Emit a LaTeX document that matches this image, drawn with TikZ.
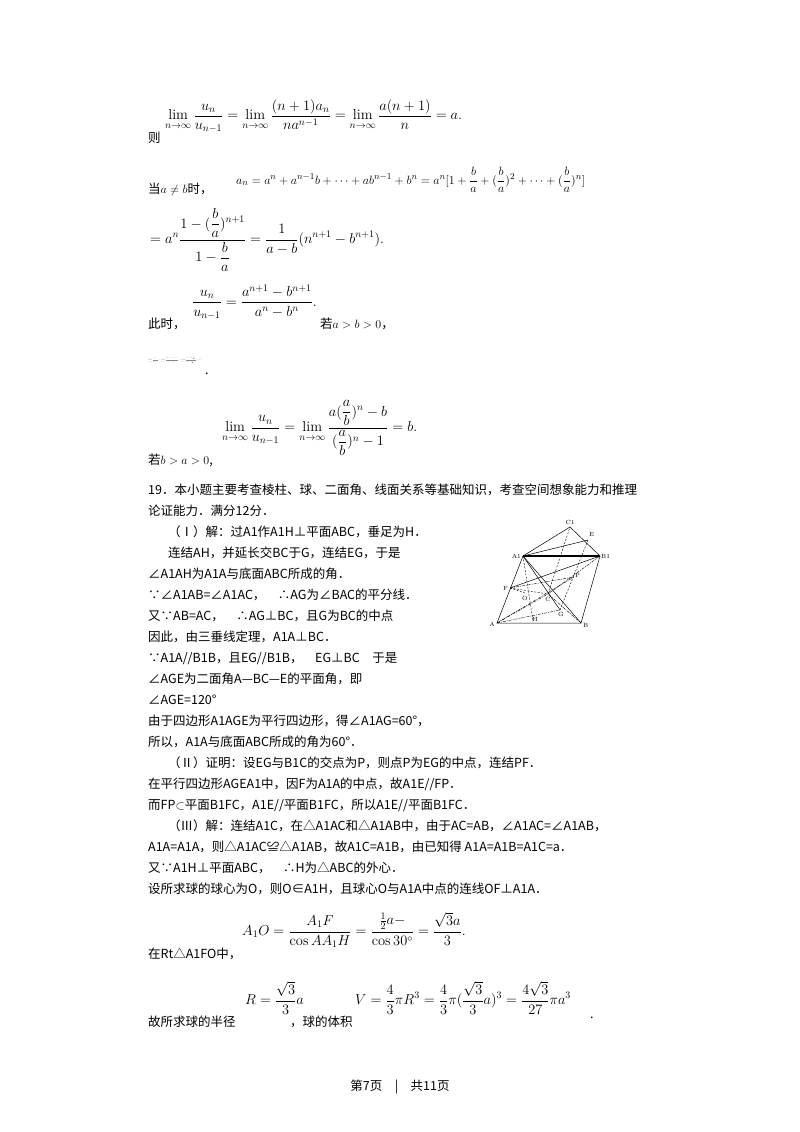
\documentclass[tikz,border=0pt]{standalone}
\usepackage{amsmath,amssymb}
\usepackage{fontspec}
\newfontfamily\cjk{Noto Sans CJK SC}
\begin{document}
\begin{tikzpicture}[x=1pt,y=-1pt,
 txt/.style={anchor=base west,inner sep=0pt,font=\fontsize{12.5}{15}\cjk},
 fm/.style={anchor=west,inner sep=0pt,font=\fontsize{14.5}{17}\selectfont},
 lbl/.style={inner sep=0pt,font=\fontsize{6}{7}\selectfont},
 ln/.style={line width=0.5pt},
 dsh/.style={line width=0.4pt,dash pattern=on 2pt off 1.5pt},
 dd/.style={line width=0.4pt,dash pattern=on 3pt off 1pt on 1pt off 1pt}]
\useasboundingbox (0,0) rectangle (800,1132);
\fill[white] (0,0) rectangle (800,1132);
% formulas
\node[fm] (f1) at (165,116) {$\displaystyle\lim_{n\to\infty}\frac{u_n}{u_{n-1}}=\lim_{n\to\infty}\frac{(n+1)a_n}{na^{n-1}}=\lim_{n\to\infty}\frac{a(n+1)}{n}=a.$};
\node[txt] (t0) at (148,142) {则};
\node[txt] (t1) at (148,193) {当$a\neq b$时，};
\node[fm,font=\fontsize{13}{15}\selectfont] (f2) at (236,180) {$a_n=a^n+a^{n-1}b+\cdots+ab^{n-1}+b^n=a^n[1+\dfrac{b}{a}+(\dfrac{b}{a})^2+\cdots+(\dfrac{b}{a})^n]$};
\node[fm] (f3) at (150,240) {$\displaystyle=a^n\frac{1-(\dfrac{b}{a})^{n+1}}{1-\dfrac{b}{a}}=\frac{1}{a-b}(n^{n+1}-b^{n+1}).$};
\node[fm] (f4) at (192,302) {$\displaystyle\frac{u_n}{u_{n-1}}=\frac{a^{n+1}-b^{n+1}}{a^n-b^n}.$};
\node[txt] (t2) at (148,328) {此时，};
\node[txt] (t3) at (320,328) {若$a>b>0$，};
\node[fm,scale=0.17,opacity=0.45] (f5) at (148,360) {$\displaystyle\lim_{n\to\infty}\frac{u_n}{u_{n-1}}=\lim_{n\to\infty}\frac{a^{n+1}-b^{n+1}}{a^n-b^n}=\lim_{n\to\infty}\frac{a-b(\frac{b}{a})^n}{1-(\frac{b}{a})^n}=a$};
\node[txt] (t4) at (205,374) {.};
\node[fm] (f6) at (222,428) {$\displaystyle\lim_{n\to\infty}\frac{u_n}{u_{n-1}}=\lim_{n\to\infty}\frac{a(\dfrac{a}{b})^n-b}{(\dfrac{a}{b})^n-1}=b.$};
\node[txt] (t5) at (148,464) {若$b>a>0$,};
% text
\node[txt] (l1) at (148,494) {19．本小题主要考查棱柱、球、二面角、线面关系等基础知识，考查空间想象能力和推理};
\node[txt] (l2) at (148,515) {论证能力．满分12分．};
\node[txt] (l3) at (168,536) {（Ⅰ）解：过A1作A1H⊥平面ABC，垂足为H．};
\node[txt] (l4) at (168,557) {连结AH，并延长交BC于G，连结EG，于是};
\node[txt] (l5) at (148,578) {∠A1AH为A1A与底面ABC所成的角．};
\node[txt] (l6) at (148,599) {∵∠A1AB=∠A1AC，\quad ∴AG为∠BAC的平分线．};
\node[txt] (l7) at (148,620) {又∵AB=AC，\quad ∴AG⊥BC，且G为BC的中点};
\node[txt] (l8) at (148,641) {因此，由三垂线定理，A1A⊥BC．};
\node[txt] (l9) at (148,662) {∵A1A//B1B，且EG//B1B，\quad EG⊥BC\quad 于是};
\node[txt] (l10) at (148,683) {∠AGE为二面角A—BC—E的平面角，即};
\node[txt] (l11) at (148,704) {∠AGE=120°};
\node[txt] (l12) at (148,725) {由于四边形A1AGE为平行四边形，得∠A1AG=60°，};
\node[txt] (l13) at (148,746) {所以，A1A与底面ABC所成的角为60°．};
\node[txt] (l14) at (168,767) {（Ⅱ）证明：设EG与B1C的交点为P，则点P为EG的中点，连结PF．};
\node[txt] (l15) at (148,788) {在平行四边形AGEA1中，因F为A1A的中点，故A1E//FP．};
\node[txt] (l16) at (148,809) {而FP$\subset$平面B1FC，A1E//平面B1FC，所以A1E//平面B1FC．};
\node[txt] (l17) at (168,830) {（Ⅲ）解：连结A1C，在△A1AC和△A1AB中，由于AC=AB，∠A1AC=∠A1AB，};
\node[txt] (l18) at (148,851) {A1A=A1A，则△A1AC≌△A1AB，故A1C=A1B，由已知得 A1A=A1B=A1C=a．};
\node[txt] (l19) at (148,872) {又∵A1H⊥平面ABC，\quad ∴H为△ABC的外心．};
\node[txt] (l20) at (148,893) {设所求球的球心为O，则O∈A1H，且球心O与A1A中点的连线OF⊥A1A．};
\node[fm] (f7) at (242,930) {$\displaystyle A_1O=\frac{A_1F}{\cos AA_1H}=\frac{\frac{1}{2}a-}{\cos30^\circ}=\frac{\sqrt3 a}{3}.$};
\node[txt] (l21) at (148,958) {在Rt△A1FO中，};
\node[fm] (f8) at (245,998) {$\displaystyle R=\frac{\sqrt3}{3}a$};
\node[txt] (l22) at (148,1026) {故所求球的半径};
\node[txt] (l23) at (290,1026) {，球的体积};
\node[fm] (f9) at (355,998) {$\displaystyle V=\frac43\pi R^3=\frac43\pi(\frac{\sqrt3}{3}a)^3=\frac{4\sqrt3}{27}\pi a^3$};
\node[txt] (t6) at (590,1018) {.};
\node[txt,anchor=base] (ft) at (400,1090) {第7页\quad |\quad 共11页};
% figure
\coordinate (A) at (497,623); \coordinate (B) at (581,623);
\coordinate (A1) at (523,556); \coordinate (B1) at (600,556);
\coordinate (C1) at (570,527); \coordinate (E) at (588,540);
\coordinate (F) at (510,588); \coordinate (C) at (548,594);
\coordinate (G) at (560,610); \coordinate (H) at (533,621);
\coordinate (O) at (525,593); \coordinate (P) at (574,577);
\draw[ln] (A)--(B)--(B1)--(A1)--cycle;
\draw[ln] (A1)--(C1)--(B1); \draw[ln] (A1)--(E);
\draw[ln] (A1)--(B); \draw[ln] (A1)--(G); \draw[ln] (F)--(B1);
\draw[line width=1.2pt] (A1)--(B1);
\draw[dsh] (C)--(C1); \draw[dsh] (A1)--(H); \draw[dsh] (E)--(G);
\draw[dsh] (F)--(C); \draw[dsh] (F)--(O);
\draw[dd] (A)--(C)--(B); \draw[dd] (A)--(G); \draw[dd] (A)--(P); \draw[dd] (C)--(B1);
\draw[dd] (F)--(P);
\node[lbl,anchor=south] (lC1) at (570,525) {C1};
\node[lbl,anchor=south west] (lE) at (589,537) {E};
\node[lbl,anchor=west] (lB1) at (601,556) {B1};
\node[lbl,anchor=east] (lA1) at (521,556) {A1};
\node[lbl,anchor=east] (lF) at (508,588) {F};
\node[lbl,anchor=north] (lO) at (525,596) {O};
\node[lbl,anchor=north] (lC) at (548,597) {C};
\node[lbl,anchor=north] (lG) at (561,612) {G};
\node[lbl,anchor=south] (lH) at (535,622) {H};
\node[lbl,anchor=east] (lA) at (495,624) {A};
\node[lbl,anchor=west] (lB) at (583,625) {B};
\node[lbl,anchor=west] (lP) at (575,575) {P};
\end{tikzpicture}
\end{document}
